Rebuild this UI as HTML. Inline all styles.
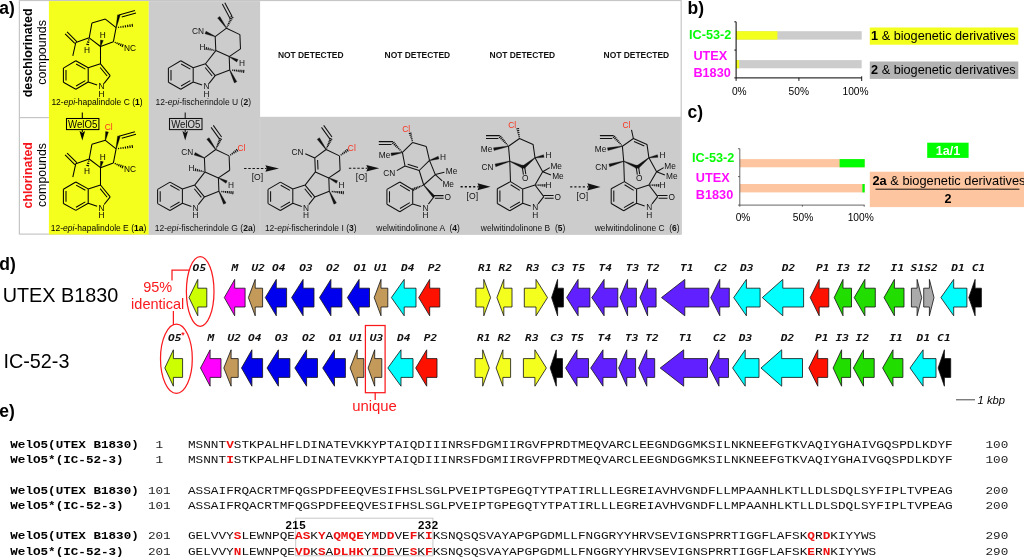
<!DOCTYPE html>
<html lang="en"><head><meta charset="utf-8"><title>WelO5 figure</title>
<style>
html,body{margin:0;padding:0;background:#fff;}
body{width:1024px;height:558px;overflow:hidden;}
svg{display:block;will-change:transform;}
</style></head><body>
<svg width="1024" height="558" viewBox="0 0 1024 558">
<g id="panel-a">
<rect x="19.4" y="0.5" width="661.8" height="233.6" fill="#fff" stroke="#c6c6c6" stroke-width="1.2"/>
<rect x="48.9" y="1.1" width="99.9" height="233.4" fill="#f5ff1e"/>
<rect x="148.8" y="1.1" width="111.3" height="116" fill="#cccccc"/>
<rect x="148.8" y="116.8" width="532.1" height="117.7" fill="#cccccc"/>
<path d="M19.4 117.6H48.9" stroke="#c6c6c6" stroke-width="1.2"/>
<path d="M260.1 117.5V234" stroke="#d4d4d4" stroke-width="0.6"/>
<text x="-0.8" y="13.6" font-family="'Liberation Sans', Arial, Helvetica, sans-serif" font-size="17.5" font-weight="bold" font-style="normal" fill="#000" text-anchor="start" >a)</text>
<text transform="translate(31.9 52.9) rotate(-90)" font-family="'Liberation Sans', Arial, Helvetica, sans-serif" font-size="12.5" font-weight="bold" fill="#000" text-anchor="middle">deschlorinated</text>
<text transform="translate(45.6 52.4) rotate(-90)" font-family="'Liberation Sans', Arial, Helvetica, sans-serif" font-size="12.5" fill="#000" text-anchor="middle">compounds</text>
<text transform="translate(32 175.3) rotate(-90)" font-family="'Liberation Sans', Arial, Helvetica, sans-serif" font-size="12.3" font-weight="bold" fill="#f5151c" text-anchor="middle">chlorinated</text>
<text transform="translate(45.6 175) rotate(-90)" font-family="'Liberation Sans', Arial, Helvetica, sans-serif" font-size="12.4" fill="#000" text-anchor="middle">compounds</text>
<text x="310.7" y="58.3" font-family="'Liberation Sans', Arial, Helvetica, sans-serif" font-size="8.45" font-weight="bold" font-style="normal" fill="#111" text-anchor="middle" >NOT DETECTED</text>
<text x="417.4" y="58.3" font-family="'Liberation Sans', Arial, Helvetica, sans-serif" font-size="8.45" font-weight="bold" font-style="normal" fill="#111" text-anchor="middle" >NOT DETECTED</text>
<text x="522.4" y="58.3" font-family="'Liberation Sans', Arial, Helvetica, sans-serif" font-size="8.45" font-weight="bold" font-style="normal" fill="#111" text-anchor="middle" >NOT DETECTED</text>
<text x="636.4" y="58.3" font-family="'Liberation Sans', Arial, Helvetica, sans-serif" font-size="8.45" font-weight="bold" font-style="normal" fill="#111" text-anchor="middle" >NOT DETECTED</text>
<path d="M91.90 23.10L105.40 19.10M105.40 19.10L116.10 27.70M116.10 27.70L113.40 41.70M113.40 41.70L100.50 46.50M100.50 46.50L89.20 37.80M89.20 37.80L91.90 23.10M118.90 15.00L134.90 10.60M121.74 17.02L136.00 13.10M89.20 37.80L75.80 42.50M76.79 41.51L67.09 31.81M74.81 43.49L65.11 33.79M75.80 42.50L72.80 55.90M88.20 67.70L88.20 82.00M75.80 89.20L63.40 82.30M63.40 68.10L75.80 60.80M75.80 60.80L88.20 67.70M76.11 63.95L85.36 69.10M88.20 82.00L75.80 89.20M85.34 80.66L76.05 86.05M63.40 82.30L63.40 68.10M66.00 80.50L66.00 69.90M88.20 67.70L100.50 63.80M100.50 63.80L110.20 75.60M100.14 67.46L107.18 76.02M110.20 75.60L104.11 83.31M97.15 85.10L88.20 82.00M100.50 46.50L100.50 63.80" fill="none" stroke="#000" stroke-width="1.05" stroke-linecap="butt"/><path d="M118.66 27.94L118.48 26.73M120.97 27.75L120.75 26.24M123.28 27.55L123.02 25.76M125.59 27.36L125.28 25.27M127.90 27.17L127.55 24.79M130.21 26.98L129.81 24.30M132.52 26.78L132.08 23.82M114.98 43.09L115.50 41.87M116.74 44.06L117.42 42.46M118.50 45.03L119.34 43.05M120.26 46.01L121.26 43.63M122.01 46.98L123.19 44.22M87.97 39.78L89.45 40.11M87.15 41.93L89.26 42.41M86.33 44.09L89.07 44.71" fill="none" stroke="#000" stroke-width="1.15" stroke-linecap="butt"/><path d="M116.34 27.75L120.17 15.28L117.63 14.72L115.86 27.65Z" fill="#000" stroke="#000" stroke-width="0.3" stroke-linejoin="round"/><path d="M100.74 46.55L103.27 40.50L100.53 39.90L100.26 46.45Z" fill="#000" stroke="#000" stroke-width="0.3" stroke-linejoin="round"/><text x="129.90" y="50.50" font-family="'Liberation Sans', Arial, Helvetica, sans-serif" font-size="8.3" font-weight="normal" font-style="normal" fill="#000" text-anchor="middle" >NC</text><text x="87.10" y="52.90" font-family="'Liberation Sans', Arial, Helvetica, sans-serif" font-size="8.3" font-weight="normal" font-style="normal" fill="#000" text-anchor="middle" >H</text><text x="102.70" y="38.30" font-family="'Liberation Sans', Arial, Helvetica, sans-serif" font-size="8.3" font-weight="normal" font-style="normal" fill="#000" text-anchor="middle" >H</text><text x="101.40" y="89.30" font-family="'Liberation Sans', Arial, Helvetica, sans-serif" font-size="8.3" font-weight="normal" font-style="normal" fill="#000" text-anchor="middle" >N</text><text x="101.40" y="96.60" font-family="'Liberation Sans', Arial, Helvetica, sans-serif" font-size="8.3" font-weight="normal" font-style="normal" fill="#000" text-anchor="middle" >H</text>
<path d="M91.90 144.30L105.40 140.30M105.40 140.30L116.10 148.90M116.10 148.90L113.40 162.90M113.40 162.90L100.50 167.70M100.50 167.70L89.20 159.00M89.20 159.00L91.90 144.30M118.90 136.20L134.90 131.80M121.74 138.22L136.00 134.30M89.20 159.00L75.80 163.70M76.79 162.71L67.09 153.01M74.81 164.69L65.11 154.99M75.80 163.70L72.80 177.10M88.20 188.90L88.20 203.20M75.80 210.40L63.40 203.50M63.40 189.30L75.80 182.00M75.80 182.00L88.20 188.90M76.11 185.15L85.36 190.30M88.20 203.20L75.80 210.40M85.34 201.86L76.05 207.25M63.40 203.50L63.40 189.30M66.00 201.70L66.00 191.10M88.20 188.90L100.50 185.00M100.50 185.00L110.20 196.80M100.14 188.66L107.18 197.22M110.20 196.80L104.11 204.51M97.15 206.30L88.20 203.20M100.50 167.70L100.50 185.00" fill="none" stroke="#000" stroke-width="1.05" stroke-linecap="butt"/><path d="M118.66 149.14L118.48 147.93M120.97 148.95L120.75 147.44M123.28 148.75L123.02 146.96M125.59 148.56L125.28 146.47M127.90 148.37L127.55 145.99M130.21 148.18L129.81 145.50M132.52 147.98L132.08 145.02M114.98 164.29L115.50 163.07M116.74 165.26L117.42 163.66M118.50 166.23L119.34 164.25M120.26 167.21L121.26 164.83M122.01 168.18L123.19 165.42M87.97 160.98L89.45 161.31M87.15 163.13L89.26 163.61M86.33 165.29L89.07 165.91" fill="none" stroke="#000" stroke-width="1.15" stroke-linecap="butt"/><path d="M116.34 148.95L120.17 136.48L117.63 135.92L115.86 148.85Z" fill="#000" stroke="#000" stroke-width="0.3" stroke-linejoin="round"/><path d="M100.74 167.75L103.27 161.70L100.53 161.10L100.26 167.65Z" fill="#000" stroke="#000" stroke-width="0.3" stroke-linejoin="round"/><path d="M105.65 140.35L108.38 132.06L105.62 131.54L105.15 140.25Z" fill="#000" stroke="#000" stroke-width="0.3" stroke-linejoin="round"/><text x="129.90" y="171.70" font-family="'Liberation Sans', Arial, Helvetica, sans-serif" font-size="8.3" font-weight="normal" font-style="normal" fill="#000" text-anchor="middle" >NC</text><text x="87.10" y="174.10" font-family="'Liberation Sans', Arial, Helvetica, sans-serif" font-size="8.3" font-weight="normal" font-style="normal" fill="#000" text-anchor="middle" >H</text><text x="102.70" y="159.50" font-family="'Liberation Sans', Arial, Helvetica, sans-serif" font-size="8.3" font-weight="normal" font-style="normal" fill="#000" text-anchor="middle" >H</text><text x="101.40" y="210.50" font-family="'Liberation Sans', Arial, Helvetica, sans-serif" font-size="8.3" font-weight="normal" font-style="normal" fill="#000" text-anchor="middle" >N</text><text x="101.40" y="217.80" font-family="'Liberation Sans', Arial, Helvetica, sans-serif" font-size="8.3" font-weight="normal" font-style="normal" fill="#000" text-anchor="middle" >H</text><text x="108.70" y="129.50" font-family="'Liberation Sans', Arial, Helvetica, sans-serif" font-size="8.4" font-weight="normal" font-style="normal" fill="#f8331f" text-anchor="middle" >Cl</text>
<path d="M226.50 28.20L239.90 34.60M239.90 34.60L240.50 48.90M240.50 48.90L229.20 56.60M229.20 56.60L215.80 50.60M215.20 36.60L226.50 28.20M215.80 50.60L215.20 36.60M232.00 16.20L224.80 2.70M230.28 18.93L222.33 4.02M193.20 67.70L193.20 82.00M180.80 89.20L168.40 82.30M168.40 68.10L180.80 60.80M180.80 60.80L193.20 67.70M181.11 63.95L190.36 69.10M193.20 82.00L180.80 89.20M190.34 80.66L181.05 86.05M168.40 82.30L168.40 68.10M171.00 80.50L171.00 69.90M193.20 67.70L205.50 63.80M205.50 63.80L215.20 75.60M205.14 67.46L212.18 76.02M215.20 75.60L209.11 83.31M202.15 85.10L193.20 82.00M205.50 63.80L215.80 50.60M229.20 56.60L229.70 69.90M229.70 69.90L215.20 75.60" fill="none" stroke="#111" stroke-width="1.05" stroke-linecap="butt"/><path d="M227.73 27.02L226.68 26.51M228.67 25.46L227.34 24.81M229.60 23.90L228.00 23.12M230.54 22.34L228.67 21.42M231.47 20.78L229.33 19.73M232.41 19.22L229.99 18.03M233.35 17.66L230.65 16.34M213.99 49.54L213.71 50.80M212.14 48.94L211.78 50.57M210.29 48.34L209.85 50.33M208.45 47.73L207.93 50.10M206.60 47.13L206.00 49.87M232.61 70.89L232.75 69.55M234.43 71.22L234.61 69.61M236.25 71.56L236.46 69.67M238.08 71.89L238.31 69.73M239.90 72.22L240.16 69.79M241.72 72.56L242.01 69.85M243.54 72.89L243.86 69.91" fill="none" stroke="#111" stroke-width="1.15" stroke-linecap="butt"/><path d="M226.70 28.06L219.84 16.39L217.56 18.01L226.30 28.34Z" fill="#111" stroke="#111" stroke-width="0.3" stroke-linejoin="round"/><path d="M215.30 36.37L206.05 31.21L204.95 33.79L215.10 36.83Z" fill="#111" stroke="#111" stroke-width="0.3" stroke-linejoin="round"/><path d="M229.09 56.82L236.76 62.05L238.04 59.55L229.31 56.38Z" fill="#111" stroke="#111" stroke-width="0.3" stroke-linejoin="round"/><path d="M229.47 70.01L234.34 82.90L236.86 81.70L229.93 69.79Z" fill="#111" stroke="#111" stroke-width="0.3" stroke-linejoin="round"/><text x="198.00" y="33.90" font-family="'Liberation Sans', Arial, Helvetica, sans-serif" font-size="8.3" font-weight="normal" font-style="normal" fill="#111" text-anchor="middle" >CN</text><text x="202.40" y="50.10" font-family="'Liberation Sans', Arial, Helvetica, sans-serif" font-size="8.3" font-weight="normal" font-style="normal" fill="#111" text-anchor="middle" >H</text><text x="206.40" y="89.30" font-family="'Liberation Sans', Arial, Helvetica, sans-serif" font-size="8.3" font-weight="normal" font-style="normal" fill="#111" text-anchor="middle" >N</text><text x="206.40" y="96.60" font-family="'Liberation Sans', Arial, Helvetica, sans-serif" font-size="8.3" font-weight="normal" font-style="normal" fill="#111" text-anchor="middle" >H</text><text x="241.90" y="66.20" font-family="'Liberation Sans', Arial, Helvetica, sans-serif" font-size="8.3" font-weight="normal" font-style="normal" fill="#111" text-anchor="middle" >H</text>
<path d="M215.70 149.50L229.10 155.90M229.10 155.90L229.70 170.20M229.70 170.20L218.40 177.90M218.40 177.90L205.00 171.90M204.40 157.90L215.70 149.50M205.00 171.90L204.40 157.90M221.60 137.00L213.30 125.40M219.59 139.18L211.12 127.33M182.40 189.00L182.40 203.30M170.00 210.50L157.60 203.60M157.60 189.40L170.00 182.10M170.00 182.10L182.40 189.00M170.31 185.25L179.56 190.40M182.40 203.30L170.00 210.50M179.54 201.96L170.25 207.35M157.60 203.60L157.60 189.40M160.20 201.80L160.20 191.20M182.40 189.00L194.70 185.10M194.70 185.10L204.40 196.90M194.34 188.76L201.38 197.32M204.40 196.90L198.31 204.61M191.35 206.40L182.40 203.30M194.70 185.10L205.00 171.90M218.40 177.90L218.90 191.20M218.90 191.20L204.40 196.90" fill="none" stroke="#111" stroke-width="1.05" stroke-linecap="butt"/><path d="M216.90 148.29L215.82 147.80M217.73 146.83L216.37 146.21M218.56 145.36L216.92 144.63M219.38 143.90L217.48 143.04M220.21 142.44L218.03 141.45M221.04 140.98L218.58 139.87M221.87 139.52L219.13 138.28M203.19 170.84L202.91 172.10M201.34 170.24L200.98 171.87M199.49 169.64L199.05 171.63M197.65 169.03L197.13 171.40M195.80 168.43L195.20 171.17M221.81 192.19L221.95 190.85M223.63 192.52L223.81 190.91M225.45 192.86L225.66 190.97M227.28 193.19L227.51 191.03M229.10 193.52L229.36 191.09M230.92 193.86L231.21 191.15M232.74 194.19L233.06 191.21M231.12 155.30L230.36 154.21M232.83 154.36L231.83 152.92M234.54 153.41L233.30 151.64M236.25 152.47L234.77 150.36M237.96 151.53L236.24 149.07" fill="none" stroke="#111" stroke-width="1.15" stroke-linecap="butt"/><path d="M215.90 149.36L209.04 137.69L206.76 139.31L215.50 149.64Z" fill="#111" stroke="#111" stroke-width="0.3" stroke-linejoin="round"/><path d="M204.50 157.67L195.25 152.51L194.15 155.09L204.30 158.13Z" fill="#111" stroke="#111" stroke-width="0.3" stroke-linejoin="round"/><path d="M218.29 178.12L225.96 183.35L227.24 180.85L218.51 177.68Z" fill="#111" stroke="#111" stroke-width="0.3" stroke-linejoin="round"/><path d="M218.67 191.31L223.54 204.20L226.06 203.00L219.13 191.09Z" fill="#111" stroke="#111" stroke-width="0.3" stroke-linejoin="round"/><text x="187.20" y="155.20" font-family="'Liberation Sans', Arial, Helvetica, sans-serif" font-size="8.3" font-weight="normal" font-style="normal" fill="#111" text-anchor="middle" >CN</text><text x="191.60" y="171.40" font-family="'Liberation Sans', Arial, Helvetica, sans-serif" font-size="8.3" font-weight="normal" font-style="normal" fill="#111" text-anchor="middle" >H</text><text x="195.60" y="210.60" font-family="'Liberation Sans', Arial, Helvetica, sans-serif" font-size="8.3" font-weight="normal" font-style="normal" fill="#111" text-anchor="middle" >N</text><text x="195.60" y="217.90" font-family="'Liberation Sans', Arial, Helvetica, sans-serif" font-size="8.3" font-weight="normal" font-style="normal" fill="#111" text-anchor="middle" >H</text><text x="231.10" y="187.50" font-family="'Liberation Sans', Arial, Helvetica, sans-serif" font-size="8.3" font-weight="normal" font-style="normal" fill="#111" text-anchor="middle" >H</text><text x="241.40" y="150.90" font-family="'Liberation Sans', Arial, Helvetica, sans-serif" font-size="8.4" font-weight="normal" font-style="normal" fill="#f8331f" text-anchor="middle" >Cl</text>
<path d="M326.10 149.50L339.50 155.90M339.50 155.90L340.10 170.20M340.10 170.20L328.80 177.90M328.80 177.90L315.40 171.90M314.80 157.90L326.10 149.50M314.80 157.90L315.40 171.90M317.59 159.98L318.00 169.59M332.00 137.00L323.70 125.40M329.99 139.18L321.52 127.33M314.80 157.90L305.30 153.70M292.80 189.00L292.80 203.30M280.40 210.50L268.00 203.60M268.00 189.40L280.40 182.10M280.40 182.10L292.80 189.00M280.71 185.25L289.96 190.40M292.80 203.30L280.40 210.50M289.94 201.96L280.65 207.35M268.00 203.60L268.00 189.40M270.60 201.80L270.60 191.20M292.80 189.00L305.10 185.10M305.10 185.10L314.80 196.90M304.74 188.76L311.78 197.32M314.80 196.90L308.71 204.61M301.75 206.40L292.80 203.30M305.10 185.10L315.40 171.90M328.80 177.90L329.30 191.20M329.30 191.20L314.80 196.90" fill="none" stroke="#111" stroke-width="1.05" stroke-linecap="butt"/><path d="M327.30 148.29L326.22 147.80M328.13 146.83L326.77 146.21M328.96 145.36L327.32 144.63M329.78 143.90L327.88 143.04M330.61 142.44L328.43 141.45M331.44 140.98L328.98 139.87M332.27 139.52L329.53 138.28M332.21 192.19L332.35 190.85M334.03 192.52L334.21 190.91M335.85 192.86L336.06 190.97M337.68 193.19L337.91 191.03M339.50 193.52L339.76 191.09M341.32 193.86L341.61 191.15M343.14 194.19L343.46 191.21M341.52 155.30L340.76 154.21M343.23 154.36L342.23 152.92M344.94 153.41L343.70 151.64M346.65 152.47L345.17 150.36M348.36 151.53L346.64 149.07" fill="none" stroke="#111" stroke-width="1.15" stroke-linecap="butt"/><path d="M326.30 149.36L319.44 137.69L317.16 139.31L325.90 149.64Z" fill="#111" stroke="#111" stroke-width="0.3" stroke-linejoin="round"/><path d="M328.69 178.12L336.36 183.35L337.64 180.85L328.91 177.68Z" fill="#111" stroke="#111" stroke-width="0.3" stroke-linejoin="round"/><path d="M329.07 191.31L333.94 204.20L336.46 203.00L329.53 191.09Z" fill="#111" stroke="#111" stroke-width="0.3" stroke-linejoin="round"/><text x="297.60" y="155.20" font-family="'Liberation Sans', Arial, Helvetica, sans-serif" font-size="8.3" font-weight="normal" font-style="normal" fill="#111" text-anchor="middle" >CN</text><text x="306.00" y="210.60" font-family="'Liberation Sans', Arial, Helvetica, sans-serif" font-size="8.3" font-weight="normal" font-style="normal" fill="#111" text-anchor="middle" >N</text><text x="306.00" y="217.90" font-family="'Liberation Sans', Arial, Helvetica, sans-serif" font-size="8.3" font-weight="normal" font-style="normal" fill="#111" text-anchor="middle" >H</text><text x="341.50" y="187.50" font-family="'Liberation Sans', Arial, Helvetica, sans-serif" font-size="8.3" font-weight="normal" font-style="normal" fill="#111" text-anchor="middle" >H</text><text x="351.80" y="150.90" font-family="'Liberation Sans', Arial, Helvetica, sans-serif" font-size="8.4" font-weight="normal" font-style="normal" fill="#f8331f" text-anchor="middle" >Cl</text>
<path d="M402.40 152.40L412.70 142.40M412.70 142.40L426.30 146.60M426.30 146.60L429.50 160.40M429.50 160.40L419.20 170.50M405.00 166.00L402.40 152.40M405.00 166.00L419.20 170.50M407.69 164.13L418.08 167.42M393.00 141.60L378.80 141.60M391.60 144.40L378.80 144.40M405.00 166.00L396.80 170.60M429.50 160.40L435.30 174.60M419.20 170.50L423.70 185.00M423.70 185.00L435.30 174.60M435.30 174.60L444.40 172.30M435.30 174.60L442.20 180.90M412.70 189.70L412.70 203.90M399.80 211.70L386.90 204.30M386.90 189.40L399.80 182.00M399.80 182.00L412.70 189.70M400.01 185.16L409.82 191.01M412.70 203.90L399.80 211.70M409.81 202.61L400.00 208.54M386.90 204.30L386.90 189.40M389.50 202.50L389.50 191.20M434.00 195.60L443.60 195.60M434.90 198.30L443.60 198.30M434.00 196.80L428.39 204.14M421.01 206.41L412.70 203.90" fill="none" stroke="#111" stroke-width="1.05" stroke-linecap="butt"/><path d="M412.83 140.50L411.61 140.83M412.51 138.61L410.92 139.04M412.19 136.71L410.23 137.25M411.87 134.82L409.54 135.46M411.55 132.93L408.85 133.67M401.72 150.84L400.88 151.64M400.51 149.35L399.45 150.35M399.31 147.85L398.02 149.07M398.10 146.35L396.60 147.78M396.90 144.86L395.17 146.50M395.69 143.36L393.74 145.22M394.49 141.87L392.31 143.93M422.38 184.96L422.81 185.98M420.76 185.49L421.32 186.78M419.15 186.02L419.82 187.59M417.53 186.55L418.32 188.39M415.91 187.08L416.82 189.19M414.30 187.60L415.32 189.99M412.68 188.13L413.82 190.80" fill="none" stroke="#111" stroke-width="1.15" stroke-linecap="butt"/><path d="M402.36 152.15L390.95 153.02L391.45 155.78L402.44 152.65Z" fill="#111" stroke="#111" stroke-width="0.3" stroke-linejoin="round"/><path d="M429.57 160.64L439.01 158.94L438.19 156.26L429.43 160.16Z" fill="#111" stroke="#111" stroke-width="0.3" stroke-linejoin="round"/><path d="M423.51 185.16L433.02 197.65L434.98 195.95L423.89 184.84Z" fill="#111" stroke="#111" stroke-width="0.3" stroke-linejoin="round"/><text x="406.20" y="131.50" font-family="'Liberation Sans', Arial, Helvetica, sans-serif" font-size="8.4" font-weight="normal" font-style="normal" fill="#f8331f" text-anchor="middle" >Cl</text><text x="384.50" y="158.20" font-family="'Liberation Sans', Arial, Helvetica, sans-serif" font-size="8.3" font-weight="normal" font-style="normal" fill="#111" text-anchor="middle" >Me</text><text x="389.20" y="175.60" font-family="'Liberation Sans', Arial, Helvetica, sans-serif" font-size="8.3" font-weight="normal" font-style="normal" fill="#111" text-anchor="middle" >CN</text><text x="443.10" y="159.60" font-family="'Liberation Sans', Arial, Helvetica, sans-serif" font-size="8.3" font-weight="normal" font-style="normal" fill="#111" text-anchor="middle" >H</text><text x="451.50" y="173.70" font-family="'Liberation Sans', Arial, Helvetica, sans-serif" font-size="8.3" font-weight="normal" font-style="normal" fill="#111" text-anchor="middle" >Me</text><text x="448.20" y="186.60" font-family="'Liberation Sans', Arial, Helvetica, sans-serif" font-size="8.3" font-weight="normal" font-style="normal" fill="#111" text-anchor="middle" >Me</text><text x="447.80" y="199.50" font-family="'Liberation Sans', Arial, Helvetica, sans-serif" font-size="8.3" font-weight="normal" font-style="normal" fill="#111" text-anchor="middle" >O</text><text x="425.60" y="210.50" font-family="'Liberation Sans', Arial, Helvetica, sans-serif" font-size="8.3" font-weight="normal" font-style="normal" fill="#111" text-anchor="middle" >N</text><text x="425.60" y="217.90" font-family="'Liberation Sans', Arial, Helvetica, sans-serif" font-size="8.3" font-weight="normal" font-style="normal" fill="#111" text-anchor="middle" >H</text>
<path d="M508.50 146.20L519.50 138.50M533.10 144.40L535.00 157.80M508.50 146.20L509.80 161.20M519.50 138.50L533.10 144.40M522.41 167.98L523.41 174.58M524.79 167.62L525.79 174.22M499.80 135.60L486.00 135.60M498.40 138.40L486.00 138.40M535.00 157.80L542.70 171.80M542.70 171.80L549.80 167.60M542.70 171.80L551.00 175.00M509.80 161.20L510.50 181.60M522.70 189.10L522.70 203.30M509.80 210.80L497.30 203.50M497.30 188.80L510.50 181.60M510.50 181.60L522.70 189.10M510.67 184.76L519.80 190.37M522.70 203.30L509.80 210.80M519.84 201.96L510.05 207.65M497.30 203.50L497.30 188.80M499.90 201.70L499.90 190.60M522.70 189.10L535.00 185.00M542.70 171.80L535.00 185.00M535.00 185.00L543.80 196.60M543.80 195.50L553.60 195.50M544.70 198.20L553.60 198.20M543.80 196.60L538.13 203.87M530.75 205.98L522.70 203.30" fill="none" stroke="#111" stroke-width="1.05" stroke-linecap="butt"/><path d="M519.79 136.62L518.56 136.84M519.61 134.57L518.00 134.87M519.43 132.53L517.44 132.90M519.25 130.49L516.88 130.93M519.08 128.45L516.32 128.95M507.87 144.62L507.00 145.40M506.78 143.16L505.68 144.15M505.69 141.71L504.36 142.90M504.60 140.26L503.04 141.65M503.50 138.81L501.72 140.40M502.41 137.35L500.40 139.15M501.32 135.90L499.08 137.90M536.97 185.72L537.02 184.44M538.91 185.99L538.98 184.33M540.86 186.26L540.94 184.22M542.80 186.53L542.90 184.11M544.74 186.80L544.86 184.00" fill="none" stroke="#111" stroke-width="1.15" stroke-linecap="butt"/><path d="M509.70 161.43L522.40 168.37L523.60 165.63L509.90 160.97Z" fill="#111" stroke="#111" stroke-width="0.3" stroke-linejoin="round"/><path d="M534.84 157.61L522.85 165.84L524.75 168.16L535.16 157.99Z" fill="#111" stroke="#111" stroke-width="0.3" stroke-linejoin="round"/><path d="M522.00 165.4L524.80 165.4L524.90 168.2L521.90 168.2Z" fill="#111" stroke="#111" stroke-width="0.3" stroke-linejoin="round"/><path d="M508.45 145.96L493.52 147.83L494.08 150.57L508.55 146.44Z" fill="#111" stroke="#111" stroke-width="0.3" stroke-linejoin="round"/><path d="M509.73 160.96L495.02 163.95L495.78 166.65L509.87 161.44Z" fill="#111" stroke="#111" stroke-width="0.3" stroke-linejoin="round"/><path d="M535.05 158.04L544.08 157.37L543.52 154.63L534.95 157.56Z" fill="#111" stroke="#111" stroke-width="0.3" stroke-linejoin="round"/><text x="512.10" y="127.60" font-family="'Liberation Sans', Arial, Helvetica, sans-serif" font-size="8.4" font-weight="normal" font-style="normal" fill="#f8331f" text-anchor="middle" >Cl</text><text x="525.30" y="181.30" font-family="'Liberation Sans', Arial, Helvetica, sans-serif" font-size="8.3" font-weight="normal" font-style="normal" fill="#111" text-anchor="middle" >O</text><text x="486.60" y="152.40" font-family="'Liberation Sans', Arial, Helvetica, sans-serif" font-size="8.3" font-weight="normal" font-style="normal" fill="#111" text-anchor="middle" >Me</text><text x="487.40" y="169.50" font-family="'Liberation Sans', Arial, Helvetica, sans-serif" font-size="8.3" font-weight="normal" font-style="normal" fill="#111" text-anchor="middle" >CN</text><text x="548.60" y="157.70" font-family="'Liberation Sans', Arial, Helvetica, sans-serif" font-size="8.3" font-weight="normal" font-style="normal" fill="#111" text-anchor="middle" >H</text><text x="556.20" y="168.50" font-family="'Liberation Sans', Arial, Helvetica, sans-serif" font-size="8.3" font-weight="normal" font-style="normal" fill="#111" text-anchor="middle" >Me</text><text x="557.90" y="179.30" font-family="'Liberation Sans', Arial, Helvetica, sans-serif" font-size="8.3" font-weight="normal" font-style="normal" fill="#111" text-anchor="middle" >Me</text><text x="548.60" y="187.90" font-family="'Liberation Sans', Arial, Helvetica, sans-serif" font-size="8.3" font-weight="normal" font-style="normal" fill="#111" text-anchor="middle" >H</text><text x="557.80" y="199.50" font-family="'Liberation Sans', Arial, Helvetica, sans-serif" font-size="8.3" font-weight="normal" font-style="normal" fill="#111" text-anchor="middle" >O</text><text x="535.30" y="210.20" font-family="'Liberation Sans', Arial, Helvetica, sans-serif" font-size="8.3" font-weight="normal" font-style="normal" fill="#111" text-anchor="middle" >N</text><text x="535.30" y="217.60" font-family="'Liberation Sans', Arial, Helvetica, sans-serif" font-size="8.3" font-weight="normal" font-style="normal" fill="#111" text-anchor="middle" >H</text>
<path d="M622.40 146.20L633.40 138.50M647.00 144.40L648.90 157.80M622.40 146.20L623.70 161.20M633.40 138.50L647.00 144.40M634.02 141.60L644.31 146.07M633.40 138.50L631.50 129.80M636.31 167.98L637.31 174.58M638.69 167.62L639.69 174.22M613.70 135.60L599.90 135.60M612.30 138.40L599.90 138.40M648.90 157.80L656.60 171.80M656.60 171.80L663.70 167.60M656.60 171.80L664.90 175.00M623.70 161.20L624.40 181.60M636.60 189.10L636.60 203.30M623.70 210.80L611.20 203.50M611.20 188.80L624.40 181.60M624.40 181.60L636.60 189.10M624.57 184.76L633.70 190.37M636.60 203.30L623.70 210.80M633.74 201.96L623.95 207.65M611.20 203.50L611.20 188.80M613.80 201.70L613.80 190.60M636.60 189.10L648.90 185.00M656.60 171.80L648.90 185.00M648.90 185.00L657.70 196.60M657.70 195.50L667.50 195.50M658.60 198.20L667.50 198.20M657.70 196.60L652.03 203.87M644.65 205.98L636.60 203.30" fill="none" stroke="#111" stroke-width="1.05" stroke-linecap="butt"/><path d="M621.77 144.62L620.90 145.40M620.68 143.16L619.58 144.15M619.59 141.71L618.26 142.90M618.50 140.26L616.94 141.65M617.40 138.81L615.62 140.40M616.31 137.35L614.30 139.15M615.22 135.90L612.98 137.90M650.87 185.72L650.92 184.44M652.81 185.99L652.88 184.33M654.76 186.26L654.84 184.22M656.70 186.53L656.80 184.11M658.64 186.80L658.76 184.00" fill="none" stroke="#111" stroke-width="1.15" stroke-linecap="butt"/><path d="M623.60 161.43L636.30 168.37L637.50 165.63L623.80 160.97Z" fill="#111" stroke="#111" stroke-width="0.3" stroke-linejoin="round"/><path d="M648.74 157.61L636.75 165.84L638.65 168.16L649.06 157.99Z" fill="#111" stroke="#111" stroke-width="0.3" stroke-linejoin="round"/><path d="M635.90 165.4L638.70 165.4L638.80 168.2L635.80 168.2Z" fill="#111" stroke="#111" stroke-width="0.3" stroke-linejoin="round"/><path d="M622.35 145.96L607.42 147.83L607.98 150.57L622.45 146.44Z" fill="#111" stroke="#111" stroke-width="0.3" stroke-linejoin="round"/><path d="M623.63 160.96L608.92 163.95L609.68 166.65L623.77 161.44Z" fill="#111" stroke="#111" stroke-width="0.3" stroke-linejoin="round"/><path d="M648.95 158.04L657.98 157.37L657.42 154.63L648.85 157.56Z" fill="#111" stroke="#111" stroke-width="0.3" stroke-linejoin="round"/><text x="626.50" y="127.60" font-family="'Liberation Sans', Arial, Helvetica, sans-serif" font-size="8.4" font-weight="normal" font-style="normal" fill="#f8331f" text-anchor="middle" >Cl</text><text x="639.20" y="181.30" font-family="'Liberation Sans', Arial, Helvetica, sans-serif" font-size="8.3" font-weight="normal" font-style="normal" fill="#111" text-anchor="middle" >O</text><text x="600.50" y="152.40" font-family="'Liberation Sans', Arial, Helvetica, sans-serif" font-size="8.3" font-weight="normal" font-style="normal" fill="#111" text-anchor="middle" >Me</text><text x="601.30" y="169.50" font-family="'Liberation Sans', Arial, Helvetica, sans-serif" font-size="8.3" font-weight="normal" font-style="normal" fill="#111" text-anchor="middle" >CN</text><text x="662.50" y="157.70" font-family="'Liberation Sans', Arial, Helvetica, sans-serif" font-size="8.3" font-weight="normal" font-style="normal" fill="#111" text-anchor="middle" >H</text><text x="670.10" y="168.50" font-family="'Liberation Sans', Arial, Helvetica, sans-serif" font-size="8.3" font-weight="normal" font-style="normal" fill="#111" text-anchor="middle" >Me</text><text x="671.80" y="179.30" font-family="'Liberation Sans', Arial, Helvetica, sans-serif" font-size="8.3" font-weight="normal" font-style="normal" fill="#111" text-anchor="middle" >Me</text><text x="662.50" y="187.90" font-family="'Liberation Sans', Arial, Helvetica, sans-serif" font-size="8.3" font-weight="normal" font-style="normal" fill="#111" text-anchor="middle" >H</text><text x="671.70" y="199.50" font-family="'Liberation Sans', Arial, Helvetica, sans-serif" font-size="8.3" font-weight="normal" font-style="normal" fill="#111" text-anchor="middle" >O</text><text x="649.20" y="210.20" font-family="'Liberation Sans', Arial, Helvetica, sans-serif" font-size="8.3" font-weight="normal" font-style="normal" fill="#111" text-anchor="middle" >N</text><text x="649.20" y="217.60" font-family="'Liberation Sans', Arial, Helvetica, sans-serif" font-size="8.3" font-weight="normal" font-style="normal" fill="#111" text-anchor="middle" >H</text>
<path d="M82.3 112.4V118.5M82.3 129.6V132" stroke="#000" stroke-width="1.05" fill="none"/><path d="M79.5 131.0L82.3 132.8L85.1 131.0L82.3 140.4Z" fill="#000"/><rect x="66.5" y="118.5" width="32.4" height="11.1" fill="none" stroke="#000" stroke-width="1.05"/><text x="82.7" y="127.6" font-family="'Liberation Sans', Arial, Helvetica, sans-serif" font-size="10.2" font-weight="normal" font-style="normal" fill="#000" text-anchor="middle" textLength="29.2" lengthAdjust="spacingAndGlyphs">WelO5</text>
<path d="M185.2 112.4V118.5M185.2 129.6V132" stroke="#111" stroke-width="1.05" fill="none"/><path d="M182.39999999999998 131.0L185.2 132.8L188.0 131.0L185.2 140.4Z" fill="#111"/><rect x="169.5" y="118.5" width="32.5" height="11.1" fill="none" stroke="#111" stroke-width="1.05"/><text x="185.75" y="127.6" font-family="'Liberation Sans', Arial, Helvetica, sans-serif" font-size="10.2" font-weight="normal" font-style="normal" fill="#111" text-anchor="middle" textLength="29.2" lengthAdjust="spacingAndGlyphs">WelO5</text>
<path d="M244.1 168.5H266.59999999999997" stroke="#111" stroke-width="1.05" stroke-dasharray="2.4 1.8" fill="none"/><path d="M279.0 168.5L265.4 165.2L266.79999999999995 168.5L265.4 171.8Z" fill="#111"/><text x="257.4" y="180.1" font-family="'Liberation Sans', Arial, Helvetica, sans-serif" font-size="8.6" font-weight="normal" font-style="normal" fill="#111" text-anchor="middle" >[O]</text>
<path d="M348.9 168.2H367.5" stroke="#111" stroke-width="1.05" stroke-dasharray="2.4 1.8" fill="none"/><path d="M379.2 168.2L366.3 164.89999999999998L367.7 168.2L366.3 171.5Z" fill="#111"/><text x="361.5" y="180.2" font-family="'Liberation Sans', Arial, Helvetica, sans-serif" font-size="8.6" font-weight="normal" font-style="normal" fill="#111" text-anchor="middle" >[O]</text>
<path d="M460.6 186.8H478.7" stroke="#111" stroke-width="1.4" stroke-dasharray="2.1 2.1" fill="none"/><path d="M490.5 186.8L477.5 183.25L478.9 186.8L477.5 190.35000000000002Z" fill="#111"/><text x="472.3" y="198.9" font-family="'Liberation Sans', Arial, Helvetica, sans-serif" font-size="8.6" font-weight="normal" font-style="normal" fill="#111" text-anchor="middle" >[O]</text>
<path d="M570.2 186.9H588.6" stroke="#111" stroke-width="1.4" stroke-dasharray="2.1 2.1" fill="none"/><path d="M600.5 186.9L587.4 183.35L588.8 186.9L587.4 190.45000000000002Z" fill="#111"/><text x="582.3" y="198.8" font-family="'Liberation Sans', Arial, Helvetica, sans-serif" font-size="8.6" font-weight="normal" font-style="normal" fill="#111" text-anchor="middle" >[O]</text>
<text x="51.4" y="104.8" font-family="'Liberation Sans', Arial, Helvetica, sans-serif" font-size="8.5" fill="#000" xml:space="preserve">12-<tspan font-style="italic">epi</tspan>-hapalindole C (<tspan font-weight="bold">1</tspan>)</text>
<text x="50.8" y="230.9" font-family="'Liberation Sans', Arial, Helvetica, sans-serif" font-size="8.5" fill="#000" xml:space="preserve">12-<tspan font-style="italic">epi</tspan>-hapalindole E (<tspan font-weight="bold">1a</tspan>)</text>
<text x="155.5" y="104.6" font-family="'Liberation Sans', Arial, Helvetica, sans-serif" font-size="8.5" fill="#111" xml:space="preserve">12-<tspan font-style="italic">epi</tspan>-fischerindole U (<tspan font-weight="bold">2</tspan>)</text>
<text x="154.8" y="230.9" font-family="'Liberation Sans', Arial, Helvetica, sans-serif" font-size="8.5" fill="#111" xml:space="preserve">12-<tspan font-style="italic">epi</tspan>-fischerindole G (<tspan font-weight="bold">2a</tspan>)</text>
<text x="264.9" y="230.9" font-family="'Liberation Sans', Arial, Helvetica, sans-serif" font-size="8.5" fill="#111" xml:space="preserve">12-<tspan font-style="italic">epi</tspan>-fischerindole I (<tspan font-weight="bold">3</tspan>)</text>
<text x="376.3" y="230.9" font-family="'Liberation Sans', Arial, Helvetica, sans-serif" font-size="8.45" fill="#111" xml:space="preserve">welwitindolinone A  (<tspan font-weight="bold">4</tspan>)</text>
<text x="480.8" y="230.9" font-family="'Liberation Sans', Arial, Helvetica, sans-serif" font-size="8.45" fill="#111" xml:space="preserve">welwitindolinone B  (<tspan font-weight="bold">5</tspan>)</text>
<text x="594.7" y="230.9" font-family="'Liberation Sans', Arial, Helvetica, sans-serif" font-size="8.45" fill="#111" xml:space="preserve">welwitindolinone C  (<tspan font-weight="bold">6</tspan>)</text>
</g>
<g id="panel-b">
<text x="687.6" y="13.6" font-family="'Liberation Sans', Arial, Helvetica, sans-serif" font-size="17.5" font-weight="bold" font-style="normal" fill="#000" text-anchor="start" >b)</text>
<rect x="736" y="31.2" width="125.7" height="8.4" fill="#cccccc"/>
<rect x="736" y="31.2" width="41.4" height="8.4" fill="#f3ff1c"/>
<rect x="736" y="60.1" width="125.7" height="8.2" fill="#cccccc"/>
<rect x="736" y="60.1" width="3.1" height="8.2" fill="#f3ff1c"/>
<path d="M736.1 21.8V77.9H861.7" fill="none" stroke="#000" stroke-width="1"/>
<path d="M736.1 77.9v3M798.9 77.9v3M861.7 76.3v4.7M734.3 77.9h1.8M734.3 21.8h1.8M734.3 50.1h1.8" fill="none" stroke="#000" stroke-width="0.9"/>
<text x="739.3" y="95.4" font-family="'Liberation Sans', Arial, Helvetica, sans-serif" font-size="10.2" font-weight="normal" font-style="normal" fill="#000" text-anchor="middle" >0%</text>
<text x="798.8" y="95.4" font-family="'Liberation Sans', Arial, Helvetica, sans-serif" font-size="10.2" font-weight="normal" font-style="normal" fill="#000" text-anchor="middle" >50%</text>
<text x="855.5" y="95.4" font-family="'Liberation Sans', Arial, Helvetica, sans-serif" font-size="10.2" font-weight="normal" font-style="normal" fill="#000" text-anchor="middle" >100%</text>
<text x="689" y="39.3" font-family="'Liberation Sans', Arial, Helvetica, sans-serif" font-size="12.7" font-weight="bold" font-style="normal" fill="#08fa08" text-anchor="start" >IC-53-2</text>
<text x="693.4" y="59.8" font-family="'Liberation Sans', Arial, Helvetica, sans-serif" font-size="12.7" font-weight="bold" font-style="normal" fill="#ff0cff" text-anchor="start" >UTEX</text>
<text x="693.4" y="76.9" font-family="'Liberation Sans', Arial, Helvetica, sans-serif" font-size="12.7" font-weight="bold" font-style="normal" fill="#ff0cff" text-anchor="start" >B1830</text>
<rect x="869.8" y="27.5" width="148.5" height="17.2" fill="#f3ff1c"/>
<text x="871.1" y="40.1" font-family="'Liberation Sans', Arial, Helvetica, sans-serif" font-size="12.7" fill="#000"><tspan font-weight="bold">1</tspan> &amp; biogenetic derivatives</text>
<rect x="869.8" y="61.5" width="148.5" height="17.4" fill="#b3b3b3"/>
<text x="871.1" y="74.4" font-family="'Liberation Sans', Arial, Helvetica, sans-serif" font-size="12.7" fill="#000"><tspan font-weight="bold">2</tspan> &amp; biogenetic derivatives</text>
</g>
<g id="panel-c">
<text x="687.6" y="117.7" font-family="'Liberation Sans', Arial, Helvetica, sans-serif" font-size="17.5" font-weight="bold" font-style="normal" fill="#000" text-anchor="start" >c)</text>
<rect x="740" y="159.1" width="124.7" height="8.2" fill="#fdc6a0"/>
<rect x="839.6" y="159.1" width="25.1" height="8.2" fill="#02fd02"/>
<rect x="740" y="184" width="124.7" height="8.4" fill="#fdc6a0"/>
<rect x="862.4" y="184" width="2.3" height="8.4" fill="#02fd02"/>
<path d="M739.8 148.7V205.1H864.6" fill="none" stroke="#333" stroke-width="0.75"/>
<path d="M738 148.7h1.8M738 176.6h1.8M738 205.1h1.8M739.8 205.1v1.6M802.4 205.1v1.6M864.2 205.1v1.6" fill="none" stroke="#333" stroke-width="0.75"/>
<text x="743" y="221" font-family="'Liberation Sans', Arial, Helvetica, sans-serif" font-size="10.2" font-weight="normal" font-style="normal" fill="#000" text-anchor="middle" >0%</text>
<text x="803" y="221" font-family="'Liberation Sans', Arial, Helvetica, sans-serif" font-size="10.2" font-weight="normal" font-style="normal" fill="#000" text-anchor="middle" >50%</text>
<text x="860.7" y="221" font-family="'Liberation Sans', Arial, Helvetica, sans-serif" font-size="10.2" font-weight="normal" font-style="normal" fill="#000" text-anchor="middle" >100%</text>
<text x="692" y="161.8" font-family="'Liberation Sans', Arial, Helvetica, sans-serif" font-size="12.7" font-weight="bold" font-style="normal" fill="#08fa08" text-anchor="start" >IC-53-2</text>
<text x="695.8" y="182" font-family="'Liberation Sans', Arial, Helvetica, sans-serif" font-size="12.7" font-weight="bold" font-style="normal" fill="#ff0cff" text-anchor="start" >UTEX</text>
<text x="695.8" y="199" font-family="'Liberation Sans', Arial, Helvetica, sans-serif" font-size="12.7" font-weight="bold" font-style="normal" fill="#ff0cff" text-anchor="start" >B1830</text>
<rect x="927.2" y="142.7" width="41.4" height="15.2" fill="#02fd02"/>
<text x="948" y="155" font-family="'Liberation Sans', Arial, Helvetica, sans-serif" font-size="12.55" font-weight="bold" font-style="normal" fill="#fff" text-anchor="middle" >1a/1</text>
<rect x="869.8" y="171.7" width="154.2" height="35.4" fill="#fdc6a0"/>
<text x="872.5" y="185" font-family="'Liberation Sans', Arial, Helvetica, sans-serif" font-size="12.8" fill="#000"><tspan font-weight="bold">2a</tspan> &amp; biogenetic derivatives</text>
<path d="M875.5 189.2H1019.4" stroke="#000" stroke-width="0.9"/>
<text x="948" y="202.5" font-family="'Liberation Sans', Arial, Helvetica, sans-serif" font-size="12.55" font-weight="bold" font-style="normal" fill="#000" text-anchor="middle" >2</text>
</g>
<g id="panel-d">
<text x="-0.8" y="270.4" font-family="'Liberation Sans', Arial, Helvetica, sans-serif" font-size="17.5" font-weight="bold" font-style="normal" fill="#000" text-anchor="start" >d)</text>
<text x="2.7" y="301.6" font-family="'Liberation Sans', Arial, Helvetica, sans-serif" font-size="19.8" font-weight="normal" font-style="normal" fill="#000" text-anchor="start" >UTEX B1830</text>
<text x="3.5" y="367.6" font-family="'Liberation Sans', Arial, Helvetica, sans-serif" font-size="19.8" font-weight="normal" font-style="normal" fill="#000" text-anchor="start" >IC-52-3</text>
<text x="157.7" y="291.6" font-family="'Liberation Sans', Arial, Helvetica, sans-serif" font-size="14.5" font-weight="normal" font-style="normal" fill="#fa1a1e" text-anchor="middle" >95%</text>
<text x="157.7" y="308.8" font-family="'Liberation Sans', Arial, Helvetica, sans-serif" font-size="14.5" font-weight="normal" font-style="normal" fill="#fa1a1e" text-anchor="middle" >identical</text>
<path d="M172 280.4V270.1H189.4" fill="none" stroke="#fa1a1e" stroke-width="1.25"/>
<path d="M173.4 311V325.2" fill="none" stroke="#fa1a1e" stroke-width="1.25"/>
<path d="M189.0 297.6 L197.8 279.4 L197.8 288.2 L206.8 288.2 L206.8 307.0 L197.8 307.0 L197.8 315.8Z" fill="#ccff00" stroke="#111" stroke-width="0.8" stroke-linejoin="miter"/>
<text x="192.6" y="270.5" font-family="'DejaVu Sans Mono', 'Liberation Mono', monospace" font-size="9.3" font-weight="bold" font-style="italic" fill="#111" text-anchor="start" textLength="13.6" lengthAdjust="spacingAndGlyphs">O5</text>
<path d="M224.3 297.6 L234.7 279.4 L234.7 288.2 L245.1 288.2 L245.1 307.0 L234.7 307.0 L234.7 315.8Z" fill="#ff00ff" stroke="#111" stroke-width="0.8" stroke-linejoin="miter"/>
<text x="231.6" y="270.5" font-family="'DejaVu Sans Mono', 'Liberation Mono', monospace" font-size="9.3" font-weight="bold" font-style="italic" fill="#111" text-anchor="start" textLength="6.8" lengthAdjust="spacingAndGlyphs">M</text>
<path d="M248.4 297.6 L255.2 279.4 L255.2 288.2 L262.6 288.2 L262.6 307.0 L255.2 307.0 L255.2 315.8Z" fill="#c49a5a" stroke="#111" stroke-width="0.8" stroke-linejoin="miter"/>
<text x="251.4" y="270.5" font-family="'DejaVu Sans Mono', 'Liberation Mono', monospace" font-size="9.3" font-weight="bold" font-style="italic" fill="#111" text-anchor="start" textLength="13.6" lengthAdjust="spacingAndGlyphs">U2</text>
<path d="M265.3 297.6 L276.3 279.4 L276.3 288.2 L286.6 288.2 L286.6 307.0 L276.3 307.0 L276.3 315.8Z" fill="#0000ee" stroke="#111" stroke-width="0.8" stroke-linejoin="miter"/>
<text x="271.9" y="270.5" font-family="'DejaVu Sans Mono', 'Liberation Mono', monospace" font-size="9.3" font-weight="bold" font-style="italic" fill="#111" text-anchor="start" textLength="13.6" lengthAdjust="spacingAndGlyphs">O4</text>
<path d="M291.6 297.6 L303.1 279.4 L303.1 288.2 L314.0 288.2 L314.0 307.0 L303.1 307.0 L303.1 315.8Z" fill="#0000ee" stroke="#111" stroke-width="0.8" stroke-linejoin="miter"/>
<text x="299.3" y="270.5" font-family="'DejaVu Sans Mono', 'Liberation Mono', monospace" font-size="9.3" font-weight="bold" font-style="italic" fill="#111" text-anchor="start" textLength="13.6" lengthAdjust="spacingAndGlyphs">O3</text>
<path d="M319.5 297.6 L330.9 279.4 L330.9 288.2 L341.9 288.2 L341.9 307.0 L330.9 307.0 L330.9 315.8Z" fill="#0000ee" stroke="#111" stroke-width="0.8" stroke-linejoin="miter"/>
<text x="326.1" y="270.5" font-family="'DejaVu Sans Mono', 'Liberation Mono', monospace" font-size="9.3" font-weight="bold" font-style="italic" fill="#111" text-anchor="start" textLength="13.6" lengthAdjust="spacingAndGlyphs">O2</text>
<path d="M347.4 297.6 L359.1 279.4 L359.1 288.2 L369.5 288.2 L369.5 307.0 L359.1 307.0 L359.1 315.8Z" fill="#0000ee" stroke="#111" stroke-width="0.8" stroke-linejoin="miter"/>
<text x="353.4" y="270.5" font-family="'DejaVu Sans Mono', 'Liberation Mono', monospace" font-size="9.3" font-weight="bold" font-style="italic" fill="#111" text-anchor="start" textLength="13.6" lengthAdjust="spacingAndGlyphs">O1</text>
<path d="M374.2 297.6 L381.0 279.4 L381.0 288.2 L387.8 288.2 L387.8 307.0 L381.0 307.0 L381.0 315.8Z" fill="#c49a5a" stroke="#111" stroke-width="0.8" stroke-linejoin="miter"/>
<text x="373.9" y="270.5" font-family="'DejaVu Sans Mono', 'Liberation Mono', monospace" font-size="9.3" font-weight="bold" font-style="italic" fill="#111" text-anchor="start" textLength="13.6" lengthAdjust="spacingAndGlyphs">U1</text>
<path d="M391.4 297.6 L404.2 279.4 L404.2 288.2 L416.0 288.2 L416.0 307.0 L404.2 307.0 L404.2 315.8Z" fill="#00ffff" stroke="#111" stroke-width="0.8" stroke-linejoin="miter"/>
<text x="401.0" y="270.5" font-family="'DejaVu Sans Mono', 'Liberation Mono', monospace" font-size="9.3" font-weight="bold" font-style="italic" fill="#111" text-anchor="start" textLength="13.6" lengthAdjust="spacingAndGlyphs">D4</text>
<path d="M418.7 297.6 L429.7 279.4 L429.7 288.2 L439.8 288.2 L439.8 307.0 L429.7 307.0 L429.7 315.8Z" fill="#ff1100" stroke="#111" stroke-width="0.8" stroke-linejoin="miter"/>
<text x="427.8" y="270.5" font-family="'DejaVu Sans Mono', 'Liberation Mono', monospace" font-size="9.3" font-weight="bold" font-style="italic" fill="#111" text-anchor="start" textLength="13.6" lengthAdjust="spacingAndGlyphs">P2</text>
<path d="M490.6 297.6 L483.8 279.4 L483.8 288.2 L475.9 288.2 L475.9 307.0 L483.8 307.0 L483.8 315.8Z" fill="#f5ff1e" stroke="#111" stroke-width="0.8" stroke-linejoin="miter"/>
<text x="478.1" y="270.5" font-family="'DejaVu Sans Mono', 'Liberation Mono', monospace" font-size="9.3" font-weight="bold" font-style="italic" fill="#111" text-anchor="start" textLength="13.6" lengthAdjust="spacingAndGlyphs">R1</text>
<path d="M496.9 297.6 L503.8 279.4 L503.8 288.2 L512.0 288.2 L512.0 307.0 L503.8 307.0 L503.8 315.8Z" fill="#f5ff1e" stroke="#111" stroke-width="0.8" stroke-linejoin="miter"/>
<text x="498.6" y="270.5" font-family="'DejaVu Sans Mono', 'Liberation Mono', monospace" font-size="9.3" font-weight="bold" font-style="italic" fill="#111" text-anchor="start" textLength="13.6" lengthAdjust="spacingAndGlyphs">R2</text>
<path d="M547.5 297.6 L536.0 279.4 L536.0 288.2 L524.3 288.2 L524.3 307.0 L536.0 307.0 L536.0 315.8Z" fill="#f5ff1e" stroke="#111" stroke-width="0.8" stroke-linejoin="miter"/>
<text x="526.0" y="270.5" font-family="'DejaVu Sans Mono', 'Liberation Mono', monospace" font-size="9.3" font-weight="bold" font-style="italic" fill="#111" text-anchor="start" textLength="13.6" lengthAdjust="spacingAndGlyphs">R3</text>
<path d="M551.6 297.6 L557.6 279.4 L557.6 288.2 L563.4 288.2 L563.4 307.0 L557.6 307.0 L557.6 315.8Z" fill="#000000" stroke="#111" stroke-width="0.8" stroke-linejoin="miter"/>
<text x="551.1" y="270.5" font-family="'DejaVu Sans Mono', 'Liberation Mono', monospace" font-size="9.3" font-weight="bold" font-style="italic" fill="#111" text-anchor="start" textLength="13.6" lengthAdjust="spacingAndGlyphs">C3</text>
<path d="M566.6 297.6 L578.1 279.4 L578.1 288.2 L589.9 288.2 L589.9 307.0 L578.1 307.0 L578.1 315.8Z" fill="#6020ff" stroke="#111" stroke-width="0.8" stroke-linejoin="miter"/>
<text x="571.6" y="270.5" font-family="'DejaVu Sans Mono', 'Liberation Mono', monospace" font-size="9.3" font-weight="bold" font-style="italic" fill="#111" text-anchor="start" textLength="13.6" lengthAdjust="spacingAndGlyphs">T5</text>
<path d="M591.8 297.6 L604.1 279.4 L604.1 288.2 L617.8 288.2 L617.8 307.0 L604.1 307.0 L604.1 315.8Z" fill="#6020ff" stroke="#111" stroke-width="0.8" stroke-linejoin="miter"/>
<text x="598.4" y="270.5" font-family="'DejaVu Sans Mono', 'Liberation Mono', monospace" font-size="9.3" font-weight="bold" font-style="italic" fill="#111" text-anchor="start" textLength="13.6" lengthAdjust="spacingAndGlyphs">T4</text>
<path d="M620.0 297.6 L627.6 279.4 L627.6 288.2 L636.4 288.2 L636.4 307.0 L627.6 307.0 L627.6 315.8Z" fill="#6020ff" stroke="#111" stroke-width="0.8" stroke-linejoin="miter"/>
<text x="625.8" y="270.5" font-family="'DejaVu Sans Mono', 'Liberation Mono', monospace" font-size="9.3" font-weight="bold" font-style="italic" fill="#111" text-anchor="start" textLength="13.6" lengthAdjust="spacingAndGlyphs">T3</text>
<path d="M639.9 297.6 L647.6 279.4 L647.6 288.2 L656.1 288.2 L656.1 307.0 L647.6 307.0 L647.6 315.8Z" fill="#6020ff" stroke="#111" stroke-width="0.8" stroke-linejoin="miter"/>
<text x="646.3" y="270.5" font-family="'DejaVu Sans Mono', 'Liberation Mono', monospace" font-size="9.3" font-weight="bold" font-style="italic" fill="#111" text-anchor="start" textLength="13.6" lengthAdjust="spacingAndGlyphs">T2</text>
<path d="M661.5 297.6 L684.8 279.4 L684.8 288.2 L708.8 288.2 L708.8 307.0 L684.8 307.0 L684.8 315.8Z" fill="#6020ff" stroke="#111" stroke-width="0.8" stroke-linejoin="miter"/>
<text x="679.9" y="270.5" font-family="'DejaVu Sans Mono', 'Liberation Mono', monospace" font-size="9.3" font-weight="bold" font-style="italic" fill="#111" text-anchor="start" textLength="13.6" lengthAdjust="spacingAndGlyphs">T1</text>
<path d="M710.8 297.6 L719.8 279.4 L719.8 288.2 L729.3 288.2 L729.3 307.0 L719.8 307.0 L719.8 315.8Z" fill="#6020ff" stroke="#111" stroke-width="0.8" stroke-linejoin="miter"/>
<text x="713.8" y="270.5" font-family="'DejaVu Sans Mono', 'Liberation Mono', monospace" font-size="9.3" font-weight="bold" font-style="italic" fill="#111" text-anchor="start" textLength="13.6" lengthAdjust="spacingAndGlyphs">C2</text>
<path d="M733.7 297.6 L746.4 279.4 L746.4 288.2 L760.1 288.2 L760.1 307.0 L746.4 307.0 L746.4 315.8Z" fill="#00ffff" stroke="#111" stroke-width="0.8" stroke-linejoin="miter"/>
<text x="739.9" y="270.5" font-family="'DejaVu Sans Mono', 'Liberation Mono', monospace" font-size="9.3" font-weight="bold" font-style="italic" fill="#111" text-anchor="start" textLength="13.6" lengthAdjust="spacingAndGlyphs">D3</text>
<path d="M762.3 297.6 L782.8 279.4 L782.8 288.2 L803.6 288.2 L803.6 307.0 L782.8 307.0 L782.8 315.8Z" fill="#00ffff" stroke="#111" stroke-width="0.8" stroke-linejoin="miter"/>
<text x="781.8" y="270.5" font-family="'DejaVu Sans Mono', 'Liberation Mono', monospace" font-size="9.3" font-weight="bold" font-style="italic" fill="#111" text-anchor="start" textLength="13.6" lengthAdjust="spacingAndGlyphs">D2</text>
<path d="M810.2 297.6 L819.2 279.4 L819.2 288.2 L828.8 288.2 L828.8 307.0 L819.2 307.0 L819.2 315.8Z" fill="#ff1100" stroke="#111" stroke-width="0.8" stroke-linejoin="miter"/>
<text x="816.0" y="270.5" font-family="'DejaVu Sans Mono', 'Liberation Mono', monospace" font-size="9.3" font-weight="bold" font-style="italic" fill="#111" text-anchor="start" textLength="13.6" lengthAdjust="spacingAndGlyphs">P1</text>
<path d="M834.2 297.6 L843.0 279.4 L843.0 288.2 L851.5 288.2 L851.5 307.0 L843.0 307.0 L843.0 315.8Z" fill="#22dd00" stroke="#111" stroke-width="0.8" stroke-linejoin="miter"/>
<text x="836.5" y="270.5" font-family="'DejaVu Sans Mono', 'Liberation Mono', monospace" font-size="9.3" font-weight="bold" font-style="italic" fill="#111" text-anchor="start" textLength="13.6" lengthAdjust="spacingAndGlyphs">I3</text>
<path d="M854.2 297.6 L864.9 279.4 L864.9 288.2 L875.3 288.2 L875.3 307.0 L864.9 307.0 L864.9 315.8Z" fill="#22dd00" stroke="#111" stroke-width="0.8" stroke-linejoin="miter"/>
<text x="857.0" y="270.5" font-family="'DejaVu Sans Mono', 'Liberation Mono', monospace" font-size="9.3" font-weight="bold" font-style="italic" fill="#111" text-anchor="start" textLength="13.6" lengthAdjust="spacingAndGlyphs">I2</text>
<path d="M884.0 297.6 L894.4 279.4 L894.4 288.2 L904.0 288.2 L904.0 307.0 L894.4 307.0 L894.4 315.8Z" fill="#22dd00" stroke="#111" stroke-width="0.8" stroke-linejoin="miter"/>
<text x="890.6" y="270.5" font-family="'DejaVu Sans Mono', 'Liberation Mono', monospace" font-size="9.3" font-weight="bold" font-style="italic" fill="#111" text-anchor="start" textLength="13.6" lengthAdjust="spacingAndGlyphs">I1</text>
<path d="M921.7 297.6 L917.1 279.4 L917.1 288.2 L911.4 288.2 L911.4 307.0 L917.1 307.0 L917.1 315.8Z" fill="#aaaaaa" stroke="#111" stroke-width="0.8" stroke-linejoin="miter"/>
<text x="910.6" y="270.5" font-family="'DejaVu Sans Mono', 'Liberation Mono', monospace" font-size="9.3" font-weight="bold" font-style="italic" fill="#111" text-anchor="start" textLength="13.6" lengthAdjust="spacingAndGlyphs">S1</text>
<path d="M934.0 297.6 L929.4 279.4 L929.4 288.2 L923.7 288.2 L923.7 307.0 L929.4 307.0 L929.4 315.8Z" fill="#aaaaaa" stroke="#111" stroke-width="0.8" stroke-linejoin="miter"/>
<text x="924.3" y="270.5" font-family="'DejaVu Sans Mono', 'Liberation Mono', monospace" font-size="9.3" font-weight="bold" font-style="italic" fill="#111" text-anchor="start" textLength="13.6" lengthAdjust="spacingAndGlyphs">S2</text>
<path d="M940.9 297.6 L953.7 279.4 L953.7 288.2 L966.9 288.2 L966.9 307.0 L953.7 307.0 L953.7 315.8Z" fill="#00ffff" stroke="#111" stroke-width="0.8" stroke-linejoin="miter"/>
<text x="951.3" y="270.5" font-family="'DejaVu Sans Mono', 'Liberation Mono', monospace" font-size="9.3" font-weight="bold" font-style="italic" fill="#111" text-anchor="start" textLength="13.6" lengthAdjust="spacingAndGlyphs">D1</text>
<path d="M968.8 297.6 L975.1 279.4 L975.1 288.2 L981.4 288.2 L981.4 307.0 L975.1 307.0 L975.1 315.8Z" fill="#000000" stroke="#111" stroke-width="0.8" stroke-linejoin="miter"/>
<text x="971.8" y="270.5" font-family="'DejaVu Sans Mono', 'Liberation Mono', monospace" font-size="9.3" font-weight="bold" font-style="italic" fill="#111" text-anchor="start" textLength="13.6" lengthAdjust="spacingAndGlyphs">C1</text>
<path d="M164.8 368.0 L173.4 349.8 L173.4 358.6 L182.6 358.6 L182.6 377.4 L173.4 377.4 L173.4 386.2Z" fill="#ccff00" stroke="#111" stroke-width="0.8" stroke-linejoin="miter"/>
<text x="168.0" y="340.8" font-family="'DejaVu Sans Mono', 'Liberation Mono', monospace" font-size="9.3" font-weight="bold" font-style="italic" fill="#111" text-anchor="start" textLength="13.6" lengthAdjust="spacingAndGlyphs">O5</text>
<path d="M200.5 368.0 L210.1 349.8 L210.1 358.6 L221.0 358.6 L221.0 377.4 L210.1 377.4 L210.1 386.2Z" fill="#ff00ff" stroke="#111" stroke-width="0.8" stroke-linejoin="miter"/>
<text x="207.5" y="340.8" font-family="'DejaVu Sans Mono', 'Liberation Mono', monospace" font-size="9.3" font-weight="bold" font-style="italic" fill="#111" text-anchor="start" textLength="6.8" lengthAdjust="spacingAndGlyphs">M</text>
<path d="M223.8 368.0 L231.1 349.8 L231.1 358.6 L238.2 358.6 L238.2 377.4 L231.1 377.4 L231.1 386.2Z" fill="#c49a5a" stroke="#111" stroke-width="0.8" stroke-linejoin="miter"/>
<text x="227.4" y="340.8" font-family="'DejaVu Sans Mono', 'Liberation Mono', monospace" font-size="9.3" font-weight="bold" font-style="italic" fill="#111" text-anchor="start" textLength="13.6" lengthAdjust="spacingAndGlyphs">U2</text>
<path d="M241.5 368.0 L251.9 349.8 L251.9 358.6 L262.6 358.6 L262.6 377.4 L251.9 377.4 L251.9 386.2Z" fill="#0000ee" stroke="#111" stroke-width="0.8" stroke-linejoin="miter"/>
<text x="247.9" y="340.8" font-family="'DejaVu Sans Mono', 'Liberation Mono', monospace" font-size="9.3" font-weight="bold" font-style="italic" fill="#111" text-anchor="start" textLength="13.6" lengthAdjust="spacingAndGlyphs">O4</text>
<path d="M267.0 368.0 L278.4 349.8 L278.4 358.6 L289.9 358.6 L289.9 377.4 L278.4 377.4 L278.4 386.2Z" fill="#0000ee" stroke="#111" stroke-width="0.8" stroke-linejoin="miter"/>
<text x="274.7" y="340.8" font-family="'DejaVu Sans Mono', 'Liberation Mono', monospace" font-size="9.3" font-weight="bold" font-style="italic" fill="#111" text-anchor="start" textLength="13.6" lengthAdjust="spacingAndGlyphs">O3</text>
<path d="M294.8 368.0 L306.6 349.8 L306.6 358.6 L317.5 358.6 L317.5 377.4 L306.6 377.4 L306.6 386.2Z" fill="#0000ee" stroke="#111" stroke-width="0.8" stroke-linejoin="miter"/>
<text x="302.0" y="340.8" font-family="'DejaVu Sans Mono', 'Liberation Mono', monospace" font-size="9.3" font-weight="bold" font-style="italic" fill="#111" text-anchor="start" textLength="13.6" lengthAdjust="spacingAndGlyphs">O2</text>
<path d="M322.7 368.0 L334.5 349.8 L334.5 358.6 L345.4 358.6 L345.4 377.4 L334.5 377.4 L334.5 386.2Z" fill="#0000ee" stroke="#111" stroke-width="0.8" stroke-linejoin="miter"/>
<text x="328.8" y="340.8" font-family="'DejaVu Sans Mono', 'Liberation Mono', monospace" font-size="9.3" font-weight="bold" font-style="italic" fill="#111" text-anchor="start" textLength="13.6" lengthAdjust="spacingAndGlyphs">O1</text>
<path d="M350.1 368.0 L357.2 349.8 L357.2 358.6 L363.8 358.6 L363.8 377.4 L357.2 377.4 L357.2 386.2Z" fill="#c49a5a" stroke="#111" stroke-width="0.8" stroke-linejoin="miter"/>
<text x="349.3" y="340.8" font-family="'DejaVu Sans Mono', 'Liberation Mono', monospace" font-size="9.3" font-weight="bold" font-style="italic" fill="#111" text-anchor="start" textLength="13.6" lengthAdjust="spacingAndGlyphs">U1</text>
<path d="M368.1 368.0 L374.7 349.8 L374.7 358.6 L381.8 358.6 L381.8 377.4 L374.7 377.4 L374.7 386.2Z" fill="#c49a5a" stroke="#111" stroke-width="0.8" stroke-linejoin="miter"/>
<text x="369.8" y="340.8" font-family="'DejaVu Sans Mono', 'Liberation Mono', monospace" font-size="9.3" font-weight="bold" font-style="italic" fill="#111" text-anchor="start" textLength="13.6" lengthAdjust="spacingAndGlyphs">U3</text>
<path d="M387.8 368.0 L401.0 349.8 L401.0 358.6 L413.0 358.6 L413.0 377.4 L401.0 377.4 L401.0 386.2Z" fill="#00ffff" stroke="#111" stroke-width="0.8" stroke-linejoin="miter"/>
<text x="396.9" y="340.8" font-family="'DejaVu Sans Mono', 'Liberation Mono', monospace" font-size="9.3" font-weight="bold" font-style="italic" fill="#111" text-anchor="start" textLength="13.6" lengthAdjust="spacingAndGlyphs">D4</text>
<path d="M415.7 368.0 L426.7 349.8 L426.7 358.6 L437.0 358.6 L437.0 377.4 L426.7 377.4 L426.7 386.2Z" fill="#ff1100" stroke="#111" stroke-width="0.8" stroke-linejoin="miter"/>
<text x="423.7" y="340.8" font-family="'DejaVu Sans Mono', 'Liberation Mono', monospace" font-size="9.3" font-weight="bold" font-style="italic" fill="#111" text-anchor="start" textLength="13.6" lengthAdjust="spacingAndGlyphs">P2</text>
<path d="M489.3 368.0 L482.7 349.8 L482.7 358.6 L475.0 358.6 L475.0 377.4 L482.7 377.4 L482.7 386.2Z" fill="#f5ff1e" stroke="#111" stroke-width="0.8" stroke-linejoin="miter"/>
<text x="477.0" y="340.8" font-family="'DejaVu Sans Mono', 'Liberation Mono', monospace" font-size="9.3" font-weight="bold" font-style="italic" fill="#111" text-anchor="start" textLength="13.6" lengthAdjust="spacingAndGlyphs">R1</text>
<path d="M496.1 368.0 L502.9 349.8 L502.9 358.6 L510.6 358.6 L510.6 377.4 L502.9 377.4 L502.9 386.2Z" fill="#f5ff1e" stroke="#111" stroke-width="0.8" stroke-linejoin="miter"/>
<text x="497.5" y="340.8" font-family="'DejaVu Sans Mono', 'Liberation Mono', monospace" font-size="9.3" font-weight="bold" font-style="italic" fill="#111" text-anchor="start" textLength="13.6" lengthAdjust="spacingAndGlyphs">R2</text>
<path d="M546.4 368.0 L534.9 349.8 L534.9 358.6 L523.4 358.6 L523.4 377.4 L534.9 377.4 L534.9 386.2Z" fill="#f5ff1e" stroke="#111" stroke-width="0.8" stroke-linejoin="miter"/>
<text x="525.1" y="340.8" font-family="'DejaVu Sans Mono', 'Liberation Mono', monospace" font-size="9.3" font-weight="bold" font-style="italic" fill="#111" text-anchor="start" textLength="13.6" lengthAdjust="spacingAndGlyphs">R3</text>
<path d="M550.2 368.0 L556.3 349.8 L556.3 358.6 L562.5 358.6 L562.5 377.4 L556.3 377.4 L556.3 386.2Z" fill="#000000" stroke="#111" stroke-width="0.8" stroke-linejoin="miter"/>
<text x="550.0" y="340.8" font-family="'DejaVu Sans Mono', 'Liberation Mono', monospace" font-size="9.3" font-weight="bold" font-style="italic" fill="#111" text-anchor="start" textLength="13.6" lengthAdjust="spacingAndGlyphs">C3</text>
<path d="M565.6 368.0 L577.0 349.8 L577.0 358.6 L588.5 358.6 L588.5 377.4 L577.0 377.4 L577.0 386.2Z" fill="#6020ff" stroke="#111" stroke-width="0.8" stroke-linejoin="miter"/>
<text x="570.5" y="340.8" font-family="'DejaVu Sans Mono', 'Liberation Mono', monospace" font-size="9.3" font-weight="bold" font-style="italic" fill="#111" text-anchor="start" textLength="13.6" lengthAdjust="spacingAndGlyphs">T5</text>
<path d="M590.7 368.0 L603.0 349.8 L603.0 358.6 L616.7 358.6 L616.7 377.4 L603.0 377.4 L603.0 386.2Z" fill="#6020ff" stroke="#111" stroke-width="0.8" stroke-linejoin="miter"/>
<text x="597.6" y="340.8" font-family="'DejaVu Sans Mono', 'Liberation Mono', monospace" font-size="9.3" font-weight="bold" font-style="italic" fill="#111" text-anchor="start" textLength="13.6" lengthAdjust="spacingAndGlyphs">T4</text>
<path d="M618.6 368.0 L626.8 349.8 L626.8 358.6 L635.6 358.6 L635.6 377.4 L626.8 377.4 L626.8 386.2Z" fill="#6020ff" stroke="#111" stroke-width="0.8" stroke-linejoin="miter"/>
<text x="625.0" y="340.8" font-family="'DejaVu Sans Mono', 'Liberation Mono', monospace" font-size="9.3" font-weight="bold" font-style="italic" fill="#111" text-anchor="start" textLength="13.6" lengthAdjust="spacingAndGlyphs">T3</text>
<path d="M638.6 368.0 L646.8 349.8 L646.8 358.6 L654.7 358.6 L654.7 377.4 L646.8 377.4 L646.8 386.2Z" fill="#6020ff" stroke="#111" stroke-width="0.8" stroke-linejoin="miter"/>
<text x="645.2" y="340.8" font-family="'DejaVu Sans Mono', 'Liberation Mono', monospace" font-size="9.3" font-weight="bold" font-style="italic" fill="#111" text-anchor="start" textLength="13.6" lengthAdjust="spacingAndGlyphs">T2</text>
<path d="M660.2 368.0 L683.7 349.8 L683.7 358.6 L707.5 358.6 L707.5 377.4 L683.7 377.4 L683.7 386.2Z" fill="#6020ff" stroke="#111" stroke-width="0.8" stroke-linejoin="miter"/>
<text x="678.8" y="340.8" font-family="'DejaVu Sans Mono', 'Liberation Mono', monospace" font-size="9.3" font-weight="bold" font-style="italic" fill="#111" text-anchor="start" textLength="13.6" lengthAdjust="spacingAndGlyphs">T1</text>
<path d="M709.7 368.0 L719.0 349.8 L719.0 358.6 L728.5 358.6 L728.5 377.4 L719.0 377.4 L719.0 386.2Z" fill="#6020ff" stroke="#111" stroke-width="0.8" stroke-linejoin="miter"/>
<text x="712.7" y="340.8" font-family="'DejaVu Sans Mono', 'Liberation Mono', monospace" font-size="9.3" font-weight="bold" font-style="italic" fill="#111" text-anchor="start" textLength="13.6" lengthAdjust="spacingAndGlyphs">C2</text>
<path d="M732.6 368.0 L745.2 349.8 L745.2 358.6 L759.0 358.6 L759.0 377.4 L745.2 377.4 L745.2 386.2Z" fill="#00ffff" stroke="#111" stroke-width="0.8" stroke-linejoin="miter"/>
<text x="738.7" y="340.8" font-family="'DejaVu Sans Mono', 'Liberation Mono', monospace" font-size="9.3" font-weight="bold" font-style="italic" fill="#111" text-anchor="start" textLength="13.6" lengthAdjust="spacingAndGlyphs">D3</text>
<path d="M761.0 368.0 L781.7 349.8 L781.7 358.6 L802.5 358.6 L802.5 377.4 L781.7 377.4 L781.7 386.2Z" fill="#00ffff" stroke="#111" stroke-width="0.8" stroke-linejoin="miter"/>
<text x="780.7" y="340.8" font-family="'DejaVu Sans Mono', 'Liberation Mono', monospace" font-size="9.3" font-weight="bold" font-style="italic" fill="#111" text-anchor="start" textLength="13.6" lengthAdjust="spacingAndGlyphs">D2</text>
<path d="M808.8 368.0 L817.8 349.8 L817.8 358.6 L827.7 358.6 L827.7 377.4 L817.8 377.4 L817.8 386.2Z" fill="#ff1100" stroke="#111" stroke-width="0.8" stroke-linejoin="miter"/>
<text x="814.9" y="340.8" font-family="'DejaVu Sans Mono', 'Liberation Mono', monospace" font-size="9.3" font-weight="bold" font-style="italic" fill="#111" text-anchor="start" textLength="13.6" lengthAdjust="spacingAndGlyphs">P1</text>
<path d="M833.1 368.0 L841.6 349.8 L841.6 358.6 L850.6 358.6 L850.6 377.4 L841.6 377.4 L841.6 386.2Z" fill="#22dd00" stroke="#111" stroke-width="0.8" stroke-linejoin="miter"/>
<text x="835.4" y="340.8" font-family="'DejaVu Sans Mono', 'Liberation Mono', monospace" font-size="9.3" font-weight="bold" font-style="italic" fill="#111" text-anchor="start" textLength="13.6" lengthAdjust="spacingAndGlyphs">I3</text>
<path d="M853.4 368.0 L863.5 349.8 L863.5 358.6 L874.2 358.6 L874.2 377.4 L863.5 377.4 L863.5 386.2Z" fill="#22dd00" stroke="#111" stroke-width="0.8" stroke-linejoin="miter"/>
<text x="855.6" y="340.8" font-family="'DejaVu Sans Mono', 'Liberation Mono', monospace" font-size="9.3" font-weight="bold" font-style="italic" fill="#111" text-anchor="start" textLength="13.6" lengthAdjust="spacingAndGlyphs">I2</text>
<path d="M882.6 368.0 L893.0 349.8 L893.0 358.6 L902.9 358.6 L902.9 377.4 L893.0 377.4 L893.0 386.2Z" fill="#22dd00" stroke="#111" stroke-width="0.8" stroke-linejoin="miter"/>
<text x="889.3" y="340.8" font-family="'DejaVu Sans Mono', 'Liberation Mono', monospace" font-size="9.3" font-weight="bold" font-style="italic" fill="#111" text-anchor="start" textLength="13.6" lengthAdjust="spacingAndGlyphs">I1</text>
<path d="M910.0 368.0 L923.1 349.8 L923.1 358.6 L936.0 358.6 L936.0 377.4 L923.1 377.4 L923.1 386.2Z" fill="#00ffff" stroke="#111" stroke-width="0.8" stroke-linejoin="miter"/>
<text x="916.6" y="340.8" font-family="'DejaVu Sans Mono', 'Liberation Mono', monospace" font-size="9.3" font-weight="bold" font-style="italic" fill="#111" text-anchor="start" textLength="13.6" lengthAdjust="spacingAndGlyphs">D1</text>
<path d="M938.1 368.0 L944.4 349.8 L944.4 358.6 L950.7 358.6 L950.7 377.4 L944.4 377.4 L944.4 386.2Z" fill="#000000" stroke="#111" stroke-width="0.8" stroke-linejoin="miter"/>
<text x="937.1" y="340.8" font-family="'DejaVu Sans Mono', 'Liberation Mono', monospace" font-size="9.3" font-weight="bold" font-style="italic" fill="#111" text-anchor="start" textLength="13.6" lengthAdjust="spacingAndGlyphs">C1</text>
<text x="182.9" y="337.6" font-family="'Liberation Sans', Arial, Helvetica, sans-serif" font-size="8.5" font-weight="bold" font-style="normal" fill="#fa1a1e" text-anchor="middle" >*</text>
<ellipse cx="200.2" cy="291.4" rx="13.8" ry="34.9" fill="none" stroke="#fa1a1e" stroke-width="1.25"/>
<ellipse cx="176.4" cy="358.8" rx="15.9" ry="34.6" fill="none" stroke="#fa1a1e" stroke-width="1.25"/>
<rect x="365.4" y="325.5" width="19.7" height="67.2" fill="none" stroke="#fa1a1e" stroke-width="1.25"/>
<path d="M375.2 392.7V400" stroke="#fa1a1e" stroke-width="1.25"/>
<text x="374.5" y="411" font-family="'Liberation Sans', Arial, Helvetica, sans-serif" font-size="14.9" font-weight="normal" font-style="normal" fill="#fa1a1e" text-anchor="middle" >unique</text>
<path d="M956 399.8H975" stroke="#333" stroke-width="0.9"/>
<text x="977.6" y="404" font-family="'Liberation Sans', Arial, Helvetica, sans-serif" font-size="11.2" font-weight="normal" font-style="italic" fill="#000" text-anchor="start" >1 kbp</text>
</g>
<g id="panel-e">
<text x="-0.8" y="416.9" font-family="'Liberation Sans', Arial, Helvetica, sans-serif" font-size="17.5" font-weight="bold" font-style="normal" fill="#000" text-anchor="start" >e)</text>
<rect x="295.7" y="518.2" width="137.2" height="37.6" fill="none" stroke="#c8c8c8" stroke-width="1"/>
<text x="10.3" y="447.6" font-family="'Liberation Mono', 'Courier New', monospace" font-size="11.3" font-weight="bold" fill="#000" textLength="128.5" lengthAdjust="spacingAndGlyphs">WelO5(UTEX B1830)</text>
<text x="155.5" y="447.6" font-family="'Liberation Mono', 'Courier New', monospace" font-size="11.3" font-weight="normal" font-style="normal" fill="#222" text-anchor="start" textLength="7.6" lengthAdjust="spacingAndGlyphs">1</text>
<text x="985.5" y="447.6" font-family="'Liberation Mono', 'Courier New', monospace" font-size="11.3" font-weight="normal" font-style="normal" fill="#222" text-anchor="start" textLength="22.8" lengthAdjust="spacingAndGlyphs">100</text>
<text x="187.9" y="447.6" font-family="'Liberation Mono', 'Courier New', monospace" font-size="11.3" fill="#111" textLength="764.8" lengthAdjust="spacingAndGlyphs" xml:space="preserve">MSNNT<tspan fill="#ee1111" font-weight="bold">V</tspan>STKPALHFLDINATEVKKYPTAIQDIIINRSFDGMIIRGVFPRDTMEQVARCLEEGNDGGMKSILNKNEEFGTKVAQIYGHAIVGQSPDLKDYF</text>
<text x="10.3" y="462.8" font-family="'Liberation Mono', 'Courier New', monospace" font-size="11.3" font-weight="bold" fill="#000" textLength="113.4" lengthAdjust="spacingAndGlyphs">WelO5*(IC-52-3)</text>
<text x="155.5" y="462.8" font-family="'Liberation Mono', 'Courier New', monospace" font-size="11.3" font-weight="normal" font-style="normal" fill="#222" text-anchor="start" textLength="7.6" lengthAdjust="spacingAndGlyphs">1</text>
<text x="985.5" y="462.8" font-family="'Liberation Mono', 'Courier New', monospace" font-size="11.3" font-weight="normal" font-style="normal" fill="#222" text-anchor="start" textLength="22.8" lengthAdjust="spacingAndGlyphs">100</text>
<text x="187.9" y="462.8" font-family="'Liberation Mono', 'Courier New', monospace" font-size="11.3" fill="#111" textLength="764.8" lengthAdjust="spacingAndGlyphs" xml:space="preserve">MSNNT<tspan fill="#ee1111" font-weight="bold">I</tspan>STKPALHFLDINATEVKKYPTAIQDIIINRSFDGMIIRGVFPRDTMEQVARCLEEGNDGGMKSILNKNEEFGTKVAQIYGHAIVGQSPDLKDYF</text>
<text x="10.3" y="493.5" font-family="'Liberation Mono', 'Courier New', monospace" font-size="11.3" font-weight="bold" fill="#000" textLength="128.5" lengthAdjust="spacingAndGlyphs">WelO5(UTEX B1830)</text>
<text x="147.9" y="493.5" font-family="'Liberation Mono', 'Courier New', monospace" font-size="11.3" font-weight="normal" font-style="normal" fill="#222" text-anchor="start" textLength="22.8" lengthAdjust="spacingAndGlyphs">101</text>
<text x="985.5" y="493.5" font-family="'Liberation Mono', 'Courier New', monospace" font-size="11.3" font-weight="normal" font-style="normal" fill="#222" text-anchor="start" textLength="22.8" lengthAdjust="spacingAndGlyphs">200</text>
<text x="187.9" y="493.5" font-family="'Liberation Mono', 'Courier New', monospace" font-size="11.3" fill="#111" textLength="764.8" lengthAdjust="spacingAndGlyphs" xml:space="preserve">ASSAIFRQACRTMFQGSPDFEEQVESIFHSLSGLPVEIPTGPEGQTYTPATIRLLLEGREIAVHVGNDFLLMPAANHLKTLLDLSDQLSYFIPLTVPEAG</text>
<text x="10.3" y="508.6" font-family="'Liberation Mono', 'Courier New', monospace" font-size="11.3" font-weight="bold" fill="#000" textLength="113.4" lengthAdjust="spacingAndGlyphs">WelO5*(IC-52-3)</text>
<text x="147.9" y="508.6" font-family="'Liberation Mono', 'Courier New', monospace" font-size="11.3" font-weight="normal" font-style="normal" fill="#222" text-anchor="start" textLength="22.8" lengthAdjust="spacingAndGlyphs">101</text>
<text x="985.5" y="508.6" font-family="'Liberation Mono', 'Courier New', monospace" font-size="11.3" font-weight="normal" font-style="normal" fill="#222" text-anchor="start" textLength="22.8" lengthAdjust="spacingAndGlyphs">200</text>
<text x="187.9" y="508.6" font-family="'Liberation Mono', 'Courier New', monospace" font-size="11.3" fill="#111" textLength="764.8" lengthAdjust="spacingAndGlyphs" xml:space="preserve">ASSAIFRQACRTMFQGSPDFEEQVESIFHSLSGLPVEIPTGPEGQTYTPATIRLLLEGREIAVHVGNDFLLMPAANHLKTLLDLSDQLSYFIPLTVPEAG</text>
<text x="10.3" y="539.3" font-family="'Liberation Mono', 'Courier New', monospace" font-size="11.3" font-weight="bold" fill="#000" textLength="128.5" lengthAdjust="spacingAndGlyphs">WelO5(UTEX B1830)</text>
<text x="147.9" y="539.3" font-family="'Liberation Mono', 'Courier New', monospace" font-size="11.3" font-weight="normal" font-style="normal" fill="#222" text-anchor="start" textLength="22.8" lengthAdjust="spacingAndGlyphs">201</text>
<text x="985.5" y="539.3" font-family="'Liberation Mono', 'Courier New', monospace" font-size="11.3" font-weight="normal" font-style="normal" fill="#222" text-anchor="start" textLength="22.8" lengthAdjust="spacingAndGlyphs">290</text>
<text x="187.9" y="539.3" font-family="'Liberation Mono', 'Courier New', monospace" font-size="11.3" fill="#111" textLength="688.3" lengthAdjust="spacingAndGlyphs" xml:space="preserve">GELVVY<tspan fill="#ee1111" font-weight="bold">S</tspan>LEWNPQE<tspan fill="#ee1111" font-weight="bold">AS</tspan>K<tspan fill="#ee1111" font-weight="bold">Y</tspan>A<tspan fill="#ee1111" font-weight="bold">QMQE</tspan>Y<tspan fill="#ee1111" font-weight="bold">M</tspan>D<tspan fill="#ee1111" font-weight="bold">D</tspan>VE<tspan fill="#ee1111" font-weight="bold">F</tspan>K<tspan fill="#ee1111" font-weight="bold">I</tspan>KSNQSQSVAYAPGPGDMLLFNGGRYYHRVSEVIGNSPRRTIGGFLAFSK<tspan fill="#ee1111" font-weight="bold">Q</tspan>R<tspan fill="#ee1111" font-weight="bold">D</tspan>KIYYWS</text>
<text x="10.3" y="554.5" font-family="'Liberation Mono', 'Courier New', monospace" font-size="11.3" font-weight="bold" fill="#000" textLength="113.4" lengthAdjust="spacingAndGlyphs">WelO5*(IC-52-3)</text>
<text x="147.9" y="554.5" font-family="'Liberation Mono', 'Courier New', monospace" font-size="11.3" font-weight="normal" font-style="normal" fill="#222" text-anchor="start" textLength="22.8" lengthAdjust="spacingAndGlyphs">201</text>
<text x="985.5" y="554.5" font-family="'Liberation Mono', 'Courier New', monospace" font-size="11.3" font-weight="normal" font-style="normal" fill="#222" text-anchor="start" textLength="22.8" lengthAdjust="spacingAndGlyphs">290</text>
<text x="187.9" y="554.5" font-family="'Liberation Mono', 'Courier New', monospace" font-size="11.3" fill="#111" textLength="688.3" lengthAdjust="spacingAndGlyphs" xml:space="preserve">GELVVY<tspan fill="#ee1111" font-weight="bold">N</tspan>LEWNPQE<tspan fill="#ee1111" font-weight="bold">VD</tspan>K<tspan fill="#ee1111" font-weight="bold">S</tspan>A<tspan fill="#ee1111" font-weight="bold">DLHK</tspan>Y<tspan fill="#ee1111" font-weight="bold">I</tspan>D<tspan fill="#ee1111" font-weight="bold">E</tspan>VE<tspan fill="#ee1111" font-weight="bold">S</tspan>K<tspan fill="#ee1111" font-weight="bold">F</tspan>KSNQSQSVAYAPGPGDMLLFNGGRYYHRVSEVIGNSPRRTIGGFLAFSK<tspan fill="#ee1111" font-weight="bold">E</tspan>R<tspan fill="#ee1111" font-weight="bold">N</tspan>KIYYWS</text>
<text x="295.8" y="529.3" font-family="'Liberation Sans', Arial, Helvetica, sans-serif" font-size="11.5" font-weight="bold" font-style="normal" fill="#000" text-anchor="middle" letter-spacing="0.5">215</text>
<text x="428.3" y="529.3" font-family="'Liberation Sans', Arial, Helvetica, sans-serif" font-size="11.5" font-weight="bold" font-style="normal" fill="#000" text-anchor="middle" letter-spacing="0.5">232</text>
</g>
</svg>
</body></html>
